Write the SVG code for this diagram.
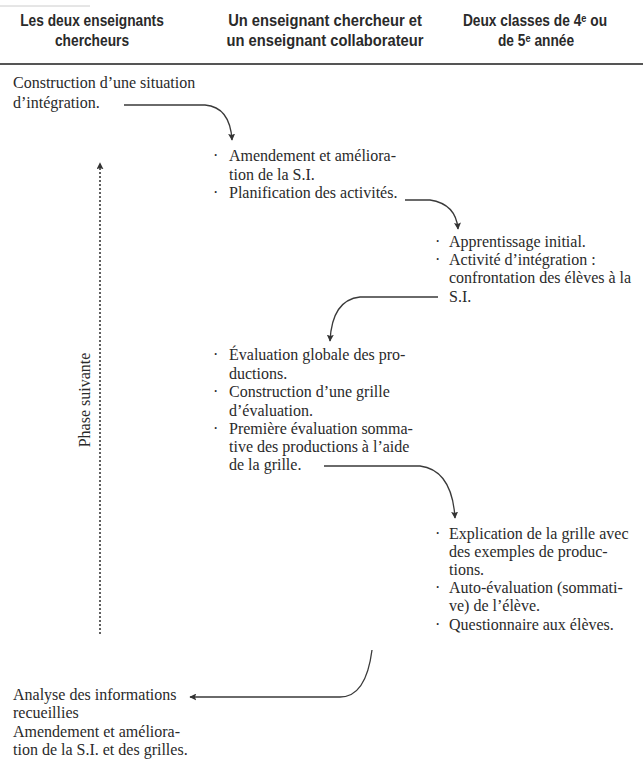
<svg xmlns="http://www.w3.org/2000/svg" width="643" height="767" viewBox="0 0 643 767">
<style>
.h{font-family:"Liberation Sans","DejaVu Sans",Arial,sans-serif;font-weight:bold;font-size:16px;fill:#2a2a2a;text-anchor:middle}
.t{font-family:"Liberation Serif","Times New Roman",serif;font-size:16px;fill:#2a2a2a}
.c{fill:none;stroke:#3a3a3a;stroke-width:1.3}
.d{fill:none;stroke:#3a3a3a;stroke-width:1.6;stroke-dasharray:2 2}
</style>
<defs>
<marker id="ah" viewBox="0 0 10 10" refX="9" refY="5" markerWidth="7" markerHeight="7" markerUnits="userSpaceOnUse" orient="auto">
<path d="M0,0 L10,5 L0,10 L2,5 z" fill="#333"/>
</marker>
</defs>
<rect width="643" height="767" fill="#fff"/>
<g id="header">
<line x1="0" y1="6" x2="90" y2="6" stroke="#ccc" stroke-width="1"/>
<text class="h" transform="translate(92,26) scale(0.86,1)">Les deux enseignants</text>
<text class="h" transform="translate(92,46) scale(0.86,1)">chercheurs</text>
<text class="h" transform="translate(325,26) scale(0.92,1)">Un enseignant chercheur et</text>
<text class="h" transform="translate(325,46) scale(0.92,1)">un enseignant collaborateur</text>
<text class="h" transform="translate(535,26) scale(0.86,1)">Deux classes de 4ᵉ ou</text>
<text class="h" transform="translate(536,46) scale(0.86,1)">de 5ᵉ année</text>
<line x1="0" y1="64" x2="643" y2="64" stroke="#555" stroke-width="1.8"/>
</g>
<g id="n1">
<text class="t" x="13" y="88">Construction d’une situation</text>
<text class="t" x="13" y="108">d’intégration.</text>
</g>
<g id="n2">
<text class="t" x="213" y="161">·</text>
<text class="t" x="229" y="161">Amendement et améliora-</text>
<text class="t" x="229" y="180">tion de la S.I.</text>
<text class="t" x="213" y="198">·</text>
<text class="t" x="229" y="198">Planification des activités.</text>
</g>
<g id="n3">
<text class="t" x="435" y="247">·</text>
<text class="t" x="449" y="247">Apprentissage initial.</text>
<text class="t" x="435" y="265">·</text>
<text class="t" x="449" y="265">Activité d’intégration :</text>
<text class="t" x="449" y="283">confrontation des élèves à la</text>
<text class="t" x="449" y="302">S.I.</text>
</g>
<g id="n4">
<text class="t" x="213" y="360">·</text>
<text class="t" x="229" y="360">Évaluation globale des pro-</text>
<text class="t" x="229" y="379">ductions.</text>
<text class="t" x="213" y="397">·</text>
<text class="t" x="229" y="397">Construction d’une grille</text>
<text class="t" x="229" y="416">d’évaluation.</text>
<text class="t" x="213" y="434">·</text>
<text class="t" x="229" y="434">Première évaluation somma-</text>
<text class="t" x="229" y="452">tive des productions à l’aide</text>
<text class="t" x="229" y="470">de la grille.</text>
</g>
<g id="n5">
<text class="t" x="435" y="539">·</text>
<text class="t" x="449" y="539">Explication de la grille avec</text>
<text class="t" x="449" y="557">des exemples de produc-</text>
<text class="t" x="449" y="575">tions.</text>
<text class="t" x="435" y="593">·</text>
<text class="t" x="449" y="593">Auto-évaluation (sommati-</text>
<text class="t" x="449" y="611">ve) de l’élève.</text>
<text class="t" x="435" y="630">·</text>
<text class="t" x="449" y="630">Questionnaire aux élèves.</text>
</g>
<g id="n6">
<text class="t" x="13" y="700">Analyse des informations</text>
<text class="t" x="13" y="718">recueillies</text>
<text class="t" x="13" y="737">Amendement et améliora-</text>
<text class="t" x="13" y="755">tion de la S.I. et des grilles.</text>
</g>
<g id="phase">
<text class="t" transform="translate(90,400) rotate(-90)" text-anchor="middle">Phase suivante</text>
</g>
<g id="connectors">
<path class="c" d="M124,105 H205 Q230,107 232,140" marker-end="url(#ah)"/>
<path class="c" d="M405,200 H430 Q456,204 458,229" marker-end="url(#ah)"/>
<path class="c" d="M438,297 H360 Q332,300 330,341" marker-end="url(#ah)"/>
<path class="c" d="M324,466 H420 Q452,470 455,518" marker-end="url(#ah)"/>
<path class="c" d="M372,650 Q366,697 340,697 H190" marker-end="url(#ah)"/>
<path class="d" d="M100,634 V163" marker-end="url(#ah)"/>
</g>
</svg>
